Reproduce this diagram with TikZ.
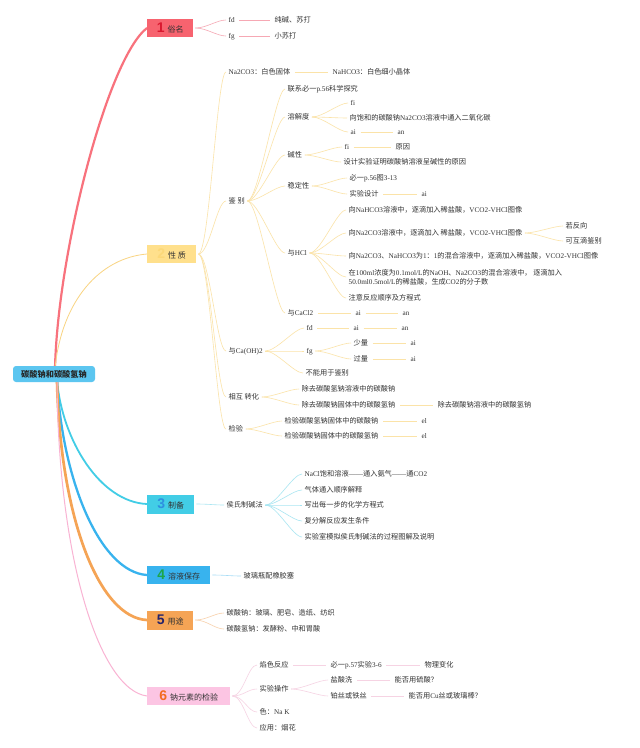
\documentclass[tikz,border=0pt]{standalone}
\usepackage{fontspec}
\setmainfont{Liberation Serif}
\newfontfamily\cjkfont{Noto Sans CJK SC}
\newfontfamily\numfont{Liberation Sans}
\usetikzlibrary{backgrounds}
\XeTeXinterchartokenstate=1
\newXeTeXintercharclass\cjkclass
\newcount\cjkcnt
\def\setcjkrange#1#2{\cjkcnt=#1 \loop \XeTeXcharclass\cjkcnt=\cjkclass \advance\cjkcnt by 1 \ifnum\cjkcnt<#2 \repeat}
\setcjkrange{"3000}{"3040}
\setcjkrange{"4E00}{"A000}
\setcjkrange{"FF00}{"FFF0}
\XeTeXinterchartoks 0 \cjkclass = {\cjkfont}
\XeTeXinterchartoks 4095 \cjkclass = {\cjkfont}
\XeTeXinterchartoks \cjkclass 0 = {\rmfamily}
\definecolor{txt}{HTML}{333333}
\definecolor{rootc}{HTML}{5CC6F0}
\definecolor{cA}{HTML}{F7636F}\definecolor{cAn}{HTML}{D9182F}\definecolor{cAl}{HTML}{F6A8B4}
\definecolor{cB}{HTML}{FFE08C}\definecolor{cBn}{HTML}{FCD878}\definecolor{cBl}{HTML}{FBE3A8}\definecolor{cBm}{HTML}{F9D482}
\definecolor{cC}{HTML}{42CDE6}\definecolor{cCn}{HTML}{2E8FE0}\definecolor{cCl}{HTML}{A9E6F2}
\definecolor{cD}{HTML}{38B3EE}\definecolor{cDn}{HTML}{1DA64A}\definecolor{cDl}{HTML}{A6DCF6}
\definecolor{cE}{HTML}{F5A455}\definecolor{cEn}{HTML}{25236B}\definecolor{cEl}{HTML}{F8D0AA}
\definecolor{cF}{HTML}{FCC5E3}\definecolor{cFn}{HTML}{F26B21}\definecolor{cFl}{HTML}{F6D3E3}\definecolor{cFm}{HTML}{F9B3D3}
\newcommand\mmfan[3][]{\draw[thinline,#1] ([xshift=2pt]#2.east) .. controls ([xshift=13pt]#2.east) and ([xshift=-11pt]#3.west) .. ([xshift=-2pt]#3.west);}
\newcommand\mmlink[3][]{\draw[thinline,#1] ([xshift=4pt]#2.east) -- ([xshift=-4pt]#3.west);}
\newcommand\bignum[2]{{\numfont\bfseries\fontsize{14}{14}\selectfont\color{#1}#2}\hspace{3pt}}
\tikzset{
  lblbase/.style={anchor=west, inner sep=0.5pt, font=\fontsize{7.2}{9}\selectfont, text=txt},
  lbl/.style={lblbase, text height=5.6pt, text depth=1.6pt},
  box/.style={anchor=west, inner sep=0pt, minimum height=18pt, font=\fontsize{8}{9}\selectfont, text=txt},
  thinline/.style={line width=0.6pt},
}
\begin{document}
\begin{tikzpicture}[x=1pt,y=-1pt]
\useasboundingbox (0,0) rectangle (640,748);
% root and main boxes
\node[box, anchor=center, fill=rootc, rounded corners=3pt, minimum width=82pt, minimum height=16pt, font=\fontsize{8.2}{9}\selectfont\bfseries, text=black!85] (root) at (54,374) {碳酸钠和碳酸氢钠};
\node[box, fill=cA, minimum width=46pt] (b1) at (147,28) {\bignum{cAn}{1}俗名};
\node[box, fill=cB, minimum width=49pt] (b2) at (147,254) {\bignum{cBn}{2}性 质};
\node[box, fill=cC, minimum width=47pt, minimum height=19pt] (b3) at (147,504) {\bignum{cCn}{3}制备};
\node[box, fill=cD, minimum width=63pt] (b4) at (147,575) {\bignum{cDn}{4}溶液保存};
\node[box, fill=cE, minimum width=46pt, minimum height=19pt] (b5) at (147,620) {\bignum{cEn}{5}用途};
\node[box, fill=cF, minimum width=83pt] (b6) at (147,696) {\bignum{cFn}{6}钠元素的检验};
\coordinate (rt) at (55,368);
\coordinate (rb) at (57,380);
\begin{pgfonlayer}{background}
\fill[white] (0,0) rectangle (640,748);
\draw[line width=2.2pt, cA!90] (rt) .. controls (58,250) and (108,58) .. (b1.west);
\draw[line width=0.8pt, cBm] (rt) .. controls (62,300) and (100,258) .. (b2.west);
\draw[line width=1.8pt, cC] (rb) .. controls (62,440) and (100,502) .. (b3.west);
\draw[line width=2.3pt, cD] (rb) .. controls (62,480) and (100,572) .. (b4.west);
\draw[line width=2.7pt, cE] (rb) .. controls (60,520) and (100,618) .. (b5.west);
\draw[line width=1pt, cFm] (rb) .. controls (58,560) and (100,690) .. (b6.west);
\end{pgfonlayer}
% branch 1
\node[lbl] (n1a) at (228,20) {fd};
\node[lbl] (n1aa) at (274,20) {纯碱、苏打};
\node[lbl] (n1b) at (228,36) {fg};
\node[lbl] (n1ba) at (274,36) {小苏打};
\mmfan[cAl]{b1}{n1a}\mmfan[cAl]{b1}{n1b}
\mmlink[cAl]{n1a}{n1aa}\mmlink[cAl]{n1b}{n1ba}
% branch 2
\node[lbl] (p1) at (228,72) {Na2CO3：白色固体};
\node[lbl] (p1a) at (332,72) {NaHCO3：白色细小晶体};
\node[lbl] (jb) at (228,201) {鉴 别};
\node[lbl] (ca) at (228,351) {与Ca(OH)2};
\node[lbl] (zh) at (228,397) {相互 转化};
\node[lbl] (jy) at (228,429) {检验};
\foreach \c in {p1,jb,ca,zh,jy}{\mmfan[cBl]{b2}{\c}}
\mmlink[cBl]{p1}{p1a}
\node[lbl] (jb1) at (287,89) {联系必一p.56科学探究};
\node[lbl] (jb2) at (287,117) {溶解度};
\node[lbl] (jb3) at (287,155) {碱性};
\node[lbl] (jb4) at (287,186) {稳定性};
\node[lbl] (jb5) at (287,253) {与HCl};
\node[lbl] (jb6) at (287,313) {与CaCl2};
\foreach \c in {jb1,jb2,jb3,jb4,jb5,jb6}{\mmfan[cBl]{jb}{\c}}
\node[lbl] (jb2a) at (350,103) {fi};
\node[lbl] (jb2b) at (349,118) {向饱和的碳酸钠Na2CO3溶液中通入二氧化碳};
\node[lbl] (jb2c) at (350,132) {ai};
\node[lbl] (jb2ca) at (397,132) {an};
\foreach \c in {jb2a,jb2b,jb2c}{\mmfan[cBl]{jb2}{\c}}
\mmlink[cBl]{jb2c}{jb2ca}
\node[lbl] (jb3a) at (344,147) {fi};
\node[lbl] (jb3aa) at (395,147) {原因};
\node[lbl] (jb3b) at (343,162) {设计实验证明碳酸钠溶液呈碱性的原因};
\foreach \c in {jb3a,jb3b}{\mmfan[cBl]{jb3}{\c}}
\mmlink[cBl]{jb3a}{jb3aa}
\node[lbl] (jb4a) at (349,178) {必一p.56图3-13};
\node[lbl] (jb4b) at (349,194) {实验设计};
\node[lbl] (jb4ba) at (421,194) {ai};
\foreach \c in {jb4a,jb4b}{\mmfan[cBl]{jb4}{\c}}
\mmlink[cBl]{jb4b}{jb4ba}
\node[lbl] (jb5a) at (348,210) {向NaHCO3溶液中，逐滴加入稀盐酸，VCO2-VHCl图像};
\node[lbl] (jb5b) at (348,233) {向Na2CO3溶液中，逐滴加入 稀盐酸，VCO2-VHCl图像};
\node[lbl] (jb5c) at (348,256) {向Na2CO3、NaHCO3为1：1的混合溶液中，逐滴加入稀盐酸，VCO2-VHCl图像};
\node[lblbase, align=left] (jb5d) at (348,277) {在100ml浓度为0.1mol/L的NaOH、Na2CO3的混合溶液中， 逐滴加入\\50.0ml0.5mol/L的稀盐酸，生成CO2的分子数};
\node[lbl] (jb5e) at (348,298) {注意反应顺序及方程式};
\foreach \c in {jb5a,jb5b,jb5c,jb5d,jb5e}{\mmfan[cBl]{jb5}{\c}}
\node[lbl] (jb5ba) at (565,226) {若反向};
\node[lbl] (jb5bb) at (565,241) {可互滴鉴别};
\foreach \c in {jb5ba,jb5bb}{\mmfan[cBl]{jb5b}{\c}}
\node[lbl] (jb6a) at (355,313) {ai};
\node[lbl] (jb6b) at (402,313) {an};
\mmlink[cBl]{jb6}{jb6a}\mmlink[cBl]{jb6a}{jb6b}
\node[lbl] (ca1) at (306,328) {fd};
\node[lbl] (ca1a) at (353,328) {ai};
\node[lbl] (ca1b) at (401,328) {an};
\node[lbl] (ca2) at (306,351) {fg};
\node[lbl] (ca2a) at (353,343) {少量};
\node[lbl] (ca2aa) at (410,343) {ai};
\node[lbl] (ca2b) at (353,359) {过量};
\node[lbl] (ca2ba) at (410,359) {ai};
\node[lbl] (ca3) at (305,373) {不能用于鉴别};
\foreach \c in {ca1,ca2,ca3}{\mmfan[cBl]{ca}{\c}}
\mmlink[cBl]{ca1}{ca1a}\mmlink[cBl]{ca1a}{ca1b}
\foreach \c in {ca2a,ca2b}{\mmfan[cBl]{ca2}{\c}}
\mmlink[cBl]{ca2a}{ca2aa}\mmlink[cBl]{ca2b}{ca2ba}
\node[lbl] (zh1) at (301,389) {除去碳酸氢钠溶液中的碳酸钠};
\node[lbl] (zh2) at (301,405) {除去碳酸钠固体中的碳酸氢钠};
\node[lbl] (zh2a) at (437,405) {除去碳酸钠溶液中的碳酸氢钠};
\foreach \c in {zh1,zh2}{\mmfan[cBl]{zh}{\c}}
\mmlink[cBl]{zh2}{zh2a}
\node[lbl] (jy1) at (284,421) {检验碳酸氢钠固体中的碳酸钠};
\node[lbl] (jy1a) at (421,421) {el};
\node[lbl] (jy2) at (284,436) {检验碳酸钠固体中的碳酸氢钠};
\node[lbl] (jy2a) at (421,436) {el};
\foreach \c in {jy1,jy2}{\mmfan[cBl]{jy}{\c}}
\mmlink[cBl]{jy1}{jy1a}\mmlink[cBl]{jy2}{jy2a}
% branch 3
\node[lbl] (hs) at (226,505) {侯氏制碱法};
\mmfan[cCl]{b3}{hs}
\node[lbl] (hs1) at (304,474) {NaCl饱和溶液——通入氨气——通CO2};
\node[lbl] (hs2) at (304,490) {气体通入顺序解释};
\node[lbl] (hs3) at (304,505) {写出每一步的化学方程式};
\node[lbl] (hs4) at (304,521) {复分解反应发生条件};
\node[lbl] (hs5) at (304,537) {实验室模拟侯氏制碱法的过程图解及说明};
\foreach \c in {hs1,hs2,hs3,hs4,hs5}{\mmfan[cCl]{hs}{\c}}
% branch 4
\node[lbl] (bc) at (243,576) {玻璃瓶配橡胶塞};
\mmfan[cDl]{b4}{bc}
% branch 5
\node[lbl] (yt1) at (226,613) {碳酸钠：玻璃、肥皂、造纸、纺织};
\node[lbl] (yt2) at (226,629) {碳酸氢钠：发酵粉、中和胃酸};
\foreach \c in {yt1,yt2}{\mmfan[cEl]{b5}{\c}}
% branch 6
\node[lbl] (ys) at (259,665) {焰色反应};
\node[lbl] (ys1) at (330,665) {必一p.57实验3-6};
\node[lbl] (ys2) at (424,665) {物理变化};
\node[lbl] (sy) at (259,689) {实验操作};
\node[lbl] (sy1) at (330,680) {盐酸洗};
\node[lbl] (sy1a) at (394,680) {能否用硫酸？};
\node[lbl] (sy2) at (330,696) {铂丝或铁丝};
\node[lbl] (sy2a) at (408,696) {能否用Cu丝或玻璃棒？};
\node[lbl] (se) at (259,712) {色：Na K};
\node[lbl] (yy) at (259,728) {应用：烟花};
\foreach \c in {ys,sy,se,yy}{\mmfan[cFl]{b6}{\c}}
\mmlink[cFl]{ys}{ys1}\mmlink[cFl]{ys1}{ys2}
\foreach \c in {sy1,sy2}{\mmfan[cFl]{sy}{\c}}
\mmlink[cFl]{sy1}{sy1a}\mmlink[cFl]{sy2}{sy2a}
\end{tikzpicture}
\end{document}
